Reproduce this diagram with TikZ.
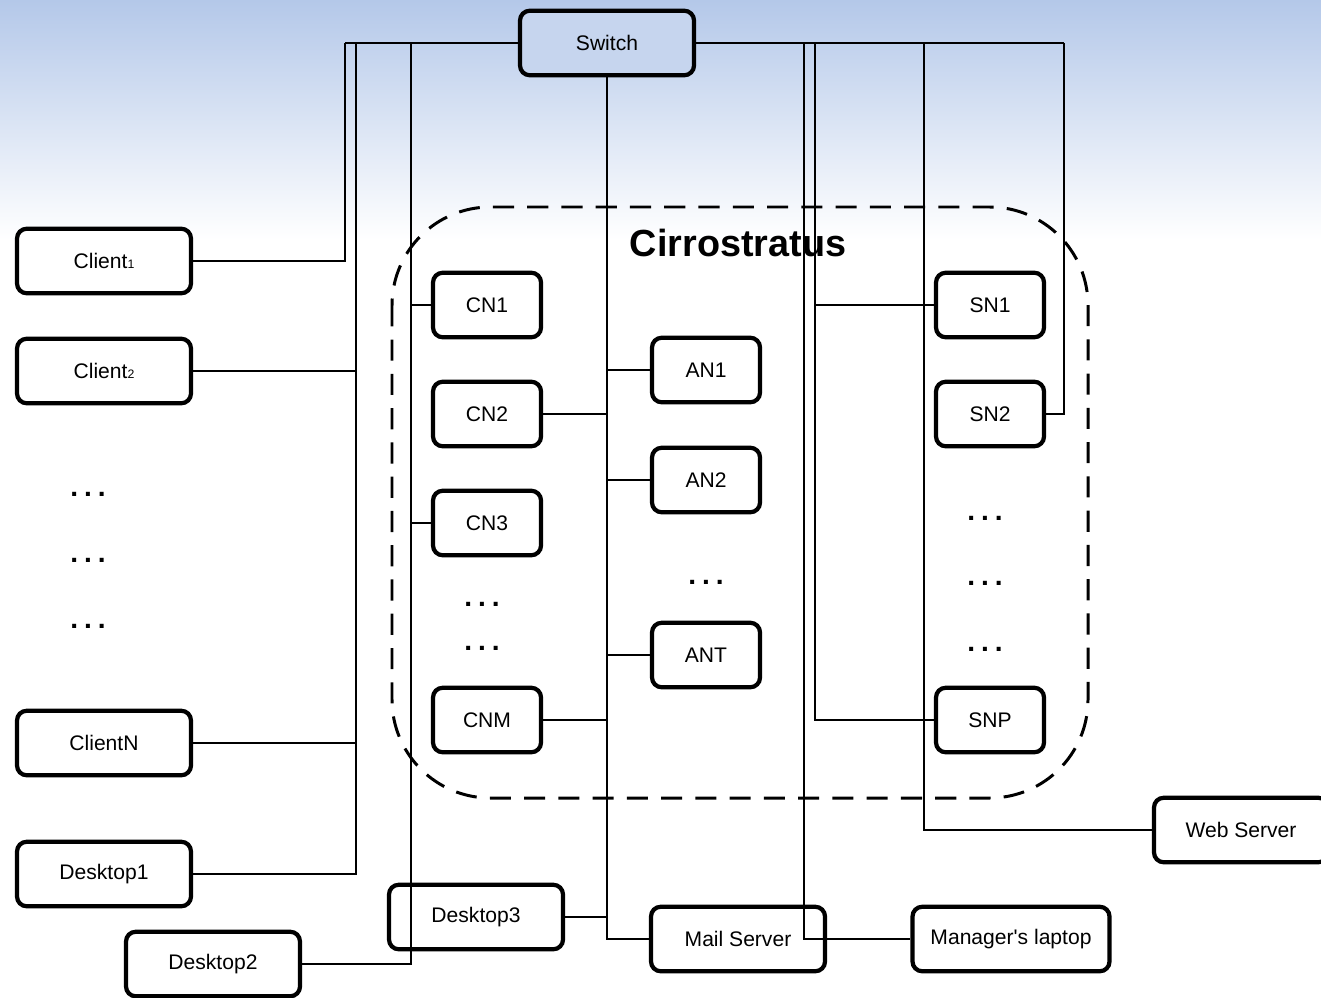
\documentclass[tikz,border=0pt]{standalone}
\usepackage{fontspec}
\setmainfont{Liberation Sans}
\usetikzlibrary{positioning,calc}
\definecolor{skyblue}{RGB}{180,200,233}
\definecolor{switchblue}{RGB}{198,213,238}
\tikzset{
    box/.style={draw, line width=2.4pt, rounded corners=5.5pt, fill=white, minimum width=3.48cm, minimum height=1.29cm, inner sep=2pt, font=\fontsize{12}{14}\selectfont},
    smallbox/.style={box, minimum width=2.16cm},
    link/.style={line width=1.5pt},
    dots/.style={font=\fontsize{16}{16}\selectfont\bfseries},
    cloud/.style={dashed, line width=1.7pt, dash pattern=on 12pt off 7.5pt, rounded corners=56pt}
}
\newcommand{\sub}[1]{{\fontsize{7}{8}\selectfont #1}}
\newcommand{\gap}{.\kern3.4pt.\kern3.4pt.}
\begin{document}
\begin{tikzpicture}[x=0.02cm, y=-0.02cm]
    \clip (0,0) rectangle (1321,997);
    % Background
    \fill[white] (0,0) rectangle (1321,997);
    \fill[top color=skyblue, bottom color=white] (0,0) rectangle (1321,240);
    
    % Cirrostratus cluster
    \draw[cloud] (392,207) rectangle (1088,798);
    \node (title) at (738,243) {\fontsize{21.5}{24}\selectfont\bfseries Cirrostratus};
    
    % Switch
    \node[box, fill=switchblue] (sw) at (607,43) {Switch};
    
    % Clients and desktops
    \node[box] (c1) at (104,261) {Client\sub{1}};
    \node[box] (c2) at (104,371) {Client\sub{2}};
    \node[dots] (cd1) at (88,494) {\gap};
    \node[dots] (cd2) at (88,560) {\gap};
    \node[dots] (cd3) at (88,626) {\gap};
    \node[box] (cN) at (104,743) {ClientN};
    \node[box] (d1) at (104,874) {Desktop1};
    \node[box] (d2) at (213,964) {Desktop2};
    \node[box] (d3) at (476,917) {Desktop3};
    
    % Compute nodes
    \node[smallbox] (cn1) at (487,305) {CN1};
    \node[smallbox] (cn2) at (487,414) {CN2};
    \node[smallbox] (cn3) at (487,523) {CN3};
    \node[dots] (cnd1) at (482,604) {\gap};
    \node[dots] (cnd2) at (482,648) {\gap};
    \node[smallbox] (cnm) at (487,720) {CNM};
    
    % Access nodes
    \node[smallbox] (an1) at (706,370) {AN1};
    \node[smallbox] (an2) at (706,480) {AN2};
    \node[dots] (and1) at (706,582) {\gap};
    \node[smallbox] (ant) at (706,655) {ANT};
    
    % Storage nodes
    \node[smallbox] (sn1) at (990,305) {SN1};
    \node[smallbox] (sn2) at (990,414) {SN2};
    \node[dots] (snd1) at (985,518) {\gap};
    \node[dots] (snd2) at (985,583) {\gap};
    \node[dots] (snd3) at (985,649) {\gap};
    \node[smallbox] (snp) at (990,720) {SNP};
    
    % Servers
    \node[box] (mail) at (738,939) {Mail Server};
    \node[box, minimum width=3.94cm] (lap) at (1011,939) {Manager\textquotesingle s laptop};
    \node[box] (web) at (1241,830) {Web Server};
    
    % Trunk points on the top line
    \coordinate (tA) at (345,43);
    \coordinate (tB) at (356,43);
    \coordinate (tC) at (411,43);
    \coordinate (tD) at (804,43);
    \coordinate (tE) at (815,43);
    \coordinate (tF) at (924,43);
    \coordinate (tG) at (1064,43);
    
    % Connections
    \draw[link] (tA) -- (sw.west);
    \draw[link] (sw.east) -- (tG);
    \draw[link] (tA) |- (c1.east);
    \draw[link] (tB) |- (d1.east);
    \draw[link] (c2.east) -- (c2.east -| tB);
    \draw[link] (cN.east) -- (cN.east -| tB);
    \draw[link] (tC) |- (d2.east);
    \draw[link] (cn1.west) -- (cn1.west -| tC);
    \draw[link] (cn3.west) -- (cn3.west -| tC);
    \draw[link] (sw.south) |- (mail.west);
    \draw[link] (cn2.east) -- (cn2.east -| sw.south);
    \draw[link] (cnm.east) -- (cnm.east -| sw.south);
    \draw[link] (an1.west) -- (an1.west -| sw.south);
    \draw[link] (an2.west) -- (an2.west -| sw.south);
    \draw[link] (ant.west) -- (ant.west -| sw.south);
    \draw[link] (d3.east) -- (d3.east -| sw.south);
    \draw[link] (tD) |- (lap.west);
    \draw[link] (tE) |- (snp.west);
    \draw[link] (sn1.west) -- (sn1.west -| tE);
    \draw[link] (tF) |- (web.west);
    \draw[link] (tG) |- (sn2.east);
    
\end{tikzpicture}
\end{document}
